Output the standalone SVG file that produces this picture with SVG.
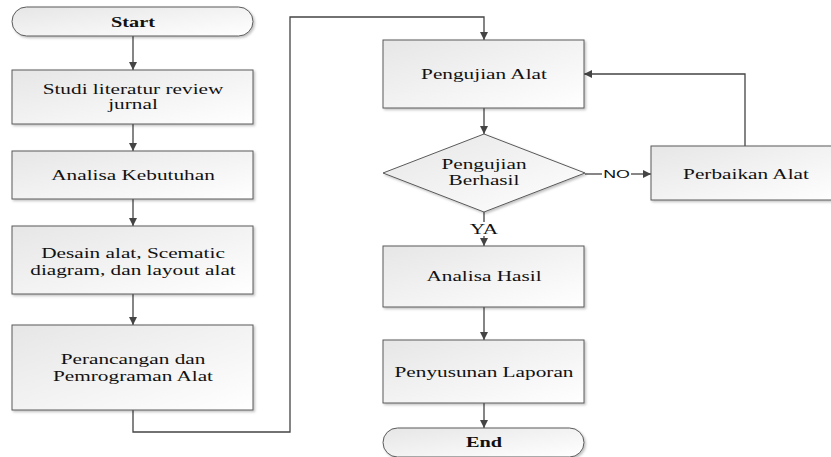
<svg xmlns="http://www.w3.org/2000/svg" width="831" height="457" viewBox="0 0 831 457">
<style>
.box{fill:url(#g);stroke:#5a5a5a;stroke-width:1;filter:url(#sh)}
.t{font-family:"Liberation Serif","Times New Roman",serif;font-size:14px;fill:#111;text-anchor:middle}
.b{font-weight:bold}
.lbl{font-family:"Liberation Sans",Arial,sans-serif;font-size:11.5px;fill:#111;text-anchor:middle}
.c{fill:none;stroke:#444;stroke-width:1.3}
</style>
<defs>
<linearGradient id="g" x1="0" y1="0" x2="1" y2="1">
<stop offset="0" stop-color="#e6e6e6"/>
<stop offset="1" stop-color="#ffffff"/>
</linearGradient>
<filter id="sh" x="-5%" y="-10%" width="115%" height="130%">
<feDropShadow dx="1.5" dy="1.5" stdDeviation="1.2" flood-color="#000" flood-opacity="0.25"/>
</filter>
<marker id="ah" viewBox="0 0 10 10" refX="10" refY="5" markerWidth="8" markerHeight="8" markerUnits="userSpaceOnUse" orient="auto">
<path d="M0,0 L10,5 L0,10 z" fill="#444"/>
</marker>
</defs>
<rect width="831" height="457" fill="#fff"/>

<g id="connectors">
<path class="c" d="M133,36 V70" marker-end="url(#ah)"/>
<path class="c" d="M133,124 V151" marker-end="url(#ah)"/>
<path class="c" d="M133,199 V226" marker-end="url(#ah)"/>
<path class="c" d="M133,294 V325" marker-end="url(#ah)"/>
<path class="c" d="M133,410 V432 H290 V17 H484 V40" marker-end="url(#ah)"/>
<path class="c" d="M484,108 V134" marker-end="url(#ah)"/>
<path class="c" d="M585,174 H602"/>
<path class="c" d="M631,174 H651" marker-end="url(#ah)"/>
<text class="lbl" transform="translate(616.5,178) scale(1.55,1)">NO</text>
<path class="c" d="M745,146 V74 H584" marker-end="url(#ah)"/>
<path class="c" d="M484,212 V222"/>
<path class="c" d="M484,236 V246" marker-end="url(#ah)"/>
<text class="t" transform="translate(484,233.5) scale(1.52,1)">YA</text>
<path class="c" d="M484,307 V340" marker-end="url(#ah)"/>
<path class="c" d="M484,403 V428" marker-end="url(#ah)"/>
</g>

<g id="start">
<rect class="box" x="12" y="7" width="241" height="29" rx="14.5"/>
<text class="t b" transform="translate(133,26.5) scale(1.45,1)">Start</text>
</g>
<g id="studi">
<rect class="box" x="12" y="70" width="241" height="54"/>
<text class="t" transform="translate(133,93.5) scale(1.52,1)">Studi literatur review</text>
<text class="t" transform="translate(133,108.5) scale(1.52,1)">jurnal</text>
</g>
<g id="analisa-kebutuhan">
<rect class="box" x="12" y="151" width="241" height="48"/>
<text class="t" transform="translate(133,180) scale(1.52,1)">Analisa Kebutuhan</text>
</g>
<g id="desain">
<rect class="box" x="12" y="226" width="241" height="68"/>
<text class="t" transform="translate(133,257.5) scale(1.52,1)">Desain alat, Scematic</text>
<text class="t" transform="translate(133,274.5) scale(1.52,1)">diagram, dan layout alat</text>
</g>
<g id="perancangan">
<rect class="box" x="12" y="325" width="241" height="85"/>
<text class="t" transform="translate(133,364) scale(1.52,1)">Perancangan dan</text>
<text class="t" transform="translate(133,381) scale(1.52,1)">Pemrograman Alat</text>
</g>
<g id="pengujian-alat">
<rect class="box" x="383" y="40" width="201" height="68"/>
<text class="t" transform="translate(484,78.5) scale(1.52,1)">Pengujian Alat</text>
</g>
<g id="pengujian-berhasil">
<polygon class="box" points="484,134 585,173 484,212 383,173"/>
<text class="t" transform="translate(484,168.5) scale(1.52,1)">Pengujian</text>
<text class="t" transform="translate(484,185) scale(1.52,1)">Berhasil</text>
</g>
<g id="perbaikan-alat">
<rect class="box" x="651" y="146" width="190" height="54"/>
<text class="t" transform="translate(746,178.5) scale(1.52,1)">Perbaikan Alat</text>
</g>
<g id="analisa-hasil">
<rect class="box" x="383" y="246" width="201" height="61"/>
<text class="t" transform="translate(484,281) scale(1.52,1)">Analisa Hasil</text>
</g>
<g id="penyusunan-laporan">
<rect class="box" x="383" y="340" width="201" height="63"/>
<text class="t" transform="translate(484,377) scale(1.52,1)">Penyusunan Laporan</text>
</g>
<g id="end">
<rect class="box" x="383" y="428" width="201" height="29" rx="14.5"/>
<text class="t b" transform="translate(484,447) scale(1.45,1)">End</text>
</g>
</svg>
